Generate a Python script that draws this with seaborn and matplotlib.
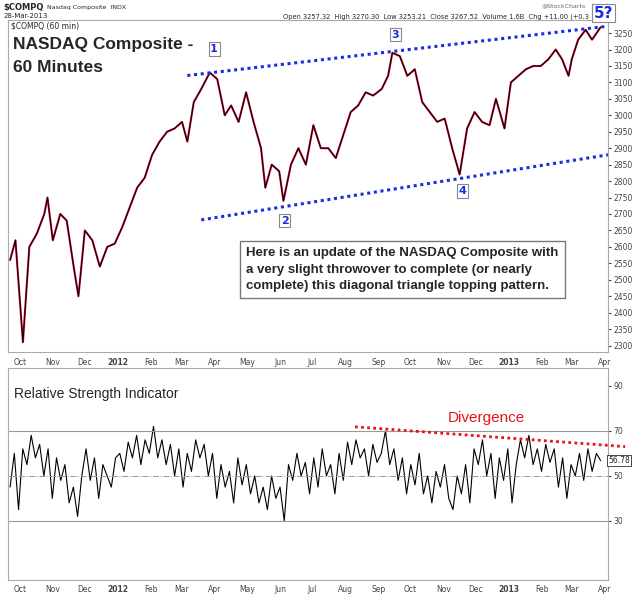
import matplotlib
matplotlib.use("Agg")
import matplotlib.pyplot as plt
import seaborn as sns
import pandas as pd
import numpy as np

price_dates = ["2011-09-22","2011-09-27","2011-10-04","2011-10-10","2011-10-17","2011-10-24","2011-10-27",
"2011-11-01","2011-11-08","2011-11-14","2011-11-21","2011-11-25","2011-12-01","2011-12-08","2011-12-15",
"2011-12-22","2011-12-29","2012-01-05","2012-01-12","2012-01-19","2012-01-26","2012-02-02","2012-02-09",
"2012-02-16","2012-02-23","2012-03-01","2012-03-06","2012-03-12","2012-03-19","2012-03-27","2012-04-03",
"2012-04-10","2012-04-16","2012-04-23","2012-04-30","2012-05-07","2012-05-14","2012-05-18","2012-05-24",
"2012-05-31","2012-06-04","2012-06-11","2012-06-18","2012-06-25","2012-07-02","2012-07-09","2012-07-16",
"2012-07-23","2012-07-30","2012-08-06","2012-08-13","2012-08-20","2012-08-27","2012-09-04","2012-09-10",
"2012-09-14","2012-09-21","2012-09-28","2012-10-05","2012-10-12","2012-10-19","2012-10-26","2012-11-02",
"2012-11-09","2012-11-16","2012-11-23","2012-11-30","2012-12-07","2012-12-14","2012-12-20","2012-12-28",
"2013-01-03","2013-01-10","2013-01-17","2013-01-24","2013-01-31","2013-02-07","2013-02-14","2013-02-20",
"2013-02-26","2013-03-01","2013-03-07","2013-03-14","2013-03-20","2013-03-28"]
price_values = [2560,2620,2310,2600,2640,2700,2750,
2620,2700,2680,2530,2450,2650,2620,2540,
2600,2610,2660,2720,2780,2810,2880,2920,
2950,2960,2980,2920,3040,3080,3130,3110,
3000,3030,2980,3070,2980,2900,2780,2850,
2830,2740,2850,2900,2850,2970,2900,2900,
2870,2940,3010,3030,3070,3060,3080,3120,
3190,3180,3120,3140,3040,3010,2980,2990,
2900,2820,2960,3010,2980,2970,3050,2960,
3100,3120,3140,3150,3150,3170,3200,3170,
3120,3170,3230,3260,3230,3268]

rsi_values = [45,60,35,62,55,68,58,64,50,62,
40,58,48,55,38,45,32,50,
62,48,58,40,55,50,45,58,
60,52,65,58,68,55,66,60,
72,58,66,55,64,50,62,
45,60,52,66,58,64,50,60,
40,55,45,52,38,58,46,55,
42,50,38,45,35,50,40,45,
30,55,48,60,50,56,42,58,
45,62,50,55,42,60,48,65,
55,66,58,62,50,64,56,60,
70,55,62,48,58,42,55,46,
60,42,50,38,52,45,55,40,
35,50,42,55,38,62,55,66,
50,60,40,58,48,62,38,55,
66,58,68,55,62,52,64,56,
62,45,58,40,55,50,60,
48,62,52,60,56.78]

month_ticks = pd.date_range("2011-10-01", "2013-04-01", freq="MS")

price = pd.DataFrame({"date": pd.to_datetime(price_dates), "close": price_values})
rsi = pd.DataFrame({"date": pd.date_range("2011-09-22", "2013-03-28", periods=len(rsi_values)),
                    "rsi": rsi_values})

sns.set_style("white")
plt.rcParams["font.family"] = ["DejaVu Sans"]
fig = plt.figure(figsize=(6.33, 6.04), dpi=100)
ax1 = fig.add_axes([0.0126, 0.417, 0.948, 0.550])
ax2 = fig.add_axes([0.0126, 0.040, 0.948, 0.351])

xmin, xmax = pd.Timestamp("2011-09-20"), pd.Timestamp("2013-04-04")

sns.lineplot(data=price, x="date", y="close", ax=ax1, color="#d0103a", lw=1.5)
sns.lineplot(data=price, x="date", y="close", ax=ax1, color="black", lw=0.7)
ax1.set_ylim(2280, 3290)
ax1.set_xlim(xmin, xmax)

ax1.plot([pd.Timestamp("2012-03-06"), xmax], [3121, 3271], ls=(0, (1, 1.2)), color="#1a2de0", lw=2.2)
ax1.plot([pd.Timestamp("2012-03-19"), xmax], [2682, 2880], ls=(0, (1, 1.2)), color="#1a2de0", lw=2.2)

waves = [("1", "2012-03-31", 3202), ("2", "2012-06-05", 2680), ("3", "2012-09-17", 3245),
         ("4", "2012-11-19", 2770)]
for lab, d, v in waves:
    ax1.text(pd.Timestamp(d), v, lab, color="#1a2de0", fontsize=8, fontweight="bold", ha="center", va="center",
             bbox=dict(boxstyle="square,pad=0.15", fc="white", ec="#888888", lw=0.8))
fig.text(0.953, 0.978, "5?", color="#1a2de0", fontsize=11, fontweight="bold", ha="center", va="center",
         bbox=dict(boxstyle="square,pad=0.1", fc="white", ec="#888888", lw=0.8))

ax1.text(0.008, 0.95, "NASDAQ Composite -\n60 Minutes", transform=ax1.transAxes, fontsize=12.5,
         fontweight="bold", va="top", ha="left", family="Liberation Sans", linespacing=1.7)
ax1.text(0.397, 0.315, "Here is an update of the NASDAQ Composite with\na very slight throwover to complete (or nearly\ncomplete) this diagonal triangle topping pattern.",
         transform=ax1.transAxes, fontsize=9.5, fontweight="bold", va="top", ha="left", family="Liberation Sans",
         linespacing=1.45, bbox=dict(boxstyle="square,pad=0.5", fc="white", ec="#777777", lw=1))
ax1.text(0.005, 0.995, "$COMPQ (60 min)", transform=ax1.transAxes, fontsize=5.5, va="top")

sns.lineplot(data=rsi, x="date", y="rsi", ax=ax2, color="black", lw=0.8)
ax2.set_ylim(3.8, 98)
ax2.set_xlim(xmin, xmax)
ax2.axhline(70, color="#999999", lw=0.8)
ax2.axhline(30, color="#999999", lw=0.8)
ax2.axhline(50, color="#999999", lw=0.7, ls="-.")
ax2.plot([pd.Timestamp("2012-08-10"), pd.Timestamp("2013-04-20")], [71.8, 63], ls=(0, (1, 1.2)),
         color="#e8121e", lw=2, clip_on=False)
ax2.text(pd.Timestamp("2012-11-05"), 74, "Divergence", color="#e8121e", fontsize=11, family="Liberation Sans")
ax2.text(0.01, 0.91, "Relative Strength Indicator", transform=ax2.transAxes, fontsize=10,
         family="Liberation Sans", va="top")
ax2.text(1.0, 56.78, "56.78", transform=ax2.get_yaxis_transform(), fontsize=5.5, va="center", ha="left",
         bbox=dict(boxstyle="square,pad=0.1", fc="white", ec="black", lw=0.5))

for ax in (ax1, ax2):
    ax.set_xlabel("")
    ax.set_ylabel("")
    ax.yaxis.tick_right()
    ax.tick_params(axis="both", labelsize=5.5, length=2, colors="#444444", pad=2)
    ax.set_xticks(month_ticks)
    labs = [d.strftime("%Y") if d.month == 1 else d.strftime("%b") for d in month_ticks]
    ax.set_xticklabels(labs)
    for t, d in zip(ax.get_xticklabels(), month_ticks):
        if d.month == 1:
            t.set_fontweight("bold")
    for s in ax.spines.values():
        s.set_color("#aaaaaa")
        s.set_linewidth(0.8)
ax1.set_yticks(np.arange(2300, 3251, 50))
ax2.set_yticks([30, 50, 70, 90])

fig.text(0.005, 0.988, "$COMPQ", fontsize=6, fontweight="bold", va="center")
fig.text(0.075, 0.988, "Nasdaq Composite  INDX", fontsize=4.5, va="center")
fig.text(0.005, 0.973, "28-Mar-2013", fontsize=5, va="center")
fig.text(0.93, 0.972, "Open 3257.32  High 3270.30  Low 3253.21  Close 3267.52  Volume 1.6B  Chg +11.00 (+0.3",
         fontsize=4.8, va="center", ha="right")
fig.text(0.925, 0.99, "@StockCharts", fontsize=4.5, va="center", ha="right", color="#666666")

fig.savefig("out.png", dpi=100, facecolor="white")
